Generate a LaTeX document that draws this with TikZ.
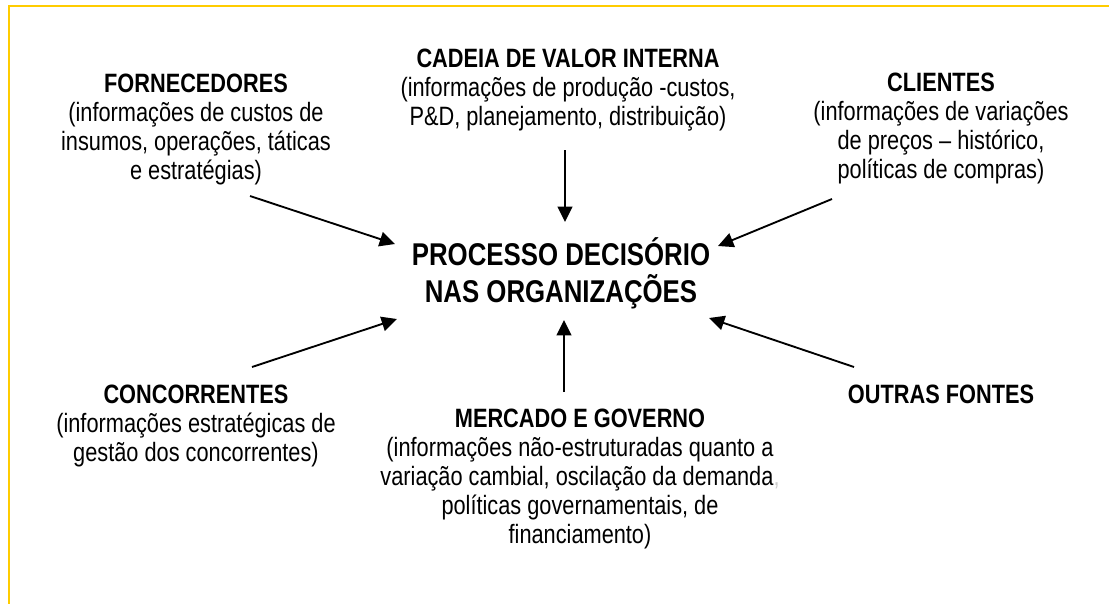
\documentclass[tikz,border=0pt]{standalone}
\usepackage{fontspec}
\setmainfont{Liberation Sans}[FakeStretch=0.82]
\usetikzlibrary{arrows.meta}
\definecolor{framegold}{RGB}{255,204,0}
\newcommand\bodysize{\fontsize{19.9pt}{21.75pt}\selectfont}
\newcommand\bigsize{\fontsize{23.6pt}{27.75pt}\selectfont}
\newcommand\topstrut{\rule{0pt}{1em}}
\tikzset{
  block/.style={align=center, inner sep=0pt, anchor=north, font=\bodysize},
  centerblock/.style={align=center, inner sep=0pt, anchor=north, font=\bigsize\bfseries},
  feed/.style={line width=1.4pt, -{Triangle[length=11.5pt,width=11pt]}},
  frame/.style={draw=framegold, line width=1.5pt}
}
\begin{document}
\begin{tikzpicture}[x=0.75pt, y=-0.75pt]
\useasboundingbox (0,0) rectangle (1109,604);
% frame
\coordinate (fa) at (1109,6);
\coordinate (fb) at (9,6);
\coordinate (fc) at (9,604);
\draw[frame] (fa) -- (fb) -- (fc);

% blocks (north = first baseline - 1em)
\node[block] (forn) at (196,65.5) {\topstrut\textbf{FORNECEDORES}\\(informações de custos de\\insumos, operações, táticas\\e estratégias)};
\node[block] (cadeia) at (568,40.5) {\topstrut\textbf{CADEIA DE VALOR INTERNA}\\(informações de produção -custos,\\P\&D, planejamento, distribuição)};
\node[block] (cli) at (941,64.5) {\topstrut\textbf{CLIENTES}\\(informações de variações\\de preços – histórico,\\políticas de compras)};
\node[block] (conc) at (196,376.5) {\topstrut\textbf{CONCORRENTES}\\(informações estratégicas de\\gestão dos concorrentes)};
\node[block] (outras) at (941,376.5) {\topstrut\textbf{OUTRAS FONTES}};
\node[block] (merc) at (580,400.5) {\topstrut\textbf{MERCADO E GOVERNO}\\(informações não-estruturadas quanto a\\variação cambial, oscilação da demanda{\color{gray!40},}\\políticas governamentais, de\\financiamento)};
\node[centerblock] (proc) at (561,233.5) {\topstrut PROCESSO DECISÓRIO\\NAS ORGANIZAÇÕES};

% arrow ends
\coordinate (tl0) at (250,196); \coordinate (tl1) at (395,244);
\coordinate (bl0) at (252,367); \coordinate (bl1) at (397,319);
\coordinate (tr0) at (832,199); \coordinate (tr1) at (718,246);
\coordinate (br0) at (854,367); \coordinate (br1) at (709,318);
\coordinate (t0) at (565,150);  \coordinate (t1) at (565,222);
\coordinate (b0) at (564,392);  \coordinate (b1) at (564,320);

\draw[feed] (tl0) -- (tl1);
\draw[feed] (bl0) -- (bl1);
\draw[feed] (tr0) -- (tr1);
\draw[feed] (br0) -- (br1);
\draw[feed] (t0) -- (t1);
\draw[feed] (b0) -- (b1);
\end{tikzpicture}
\end{document}
